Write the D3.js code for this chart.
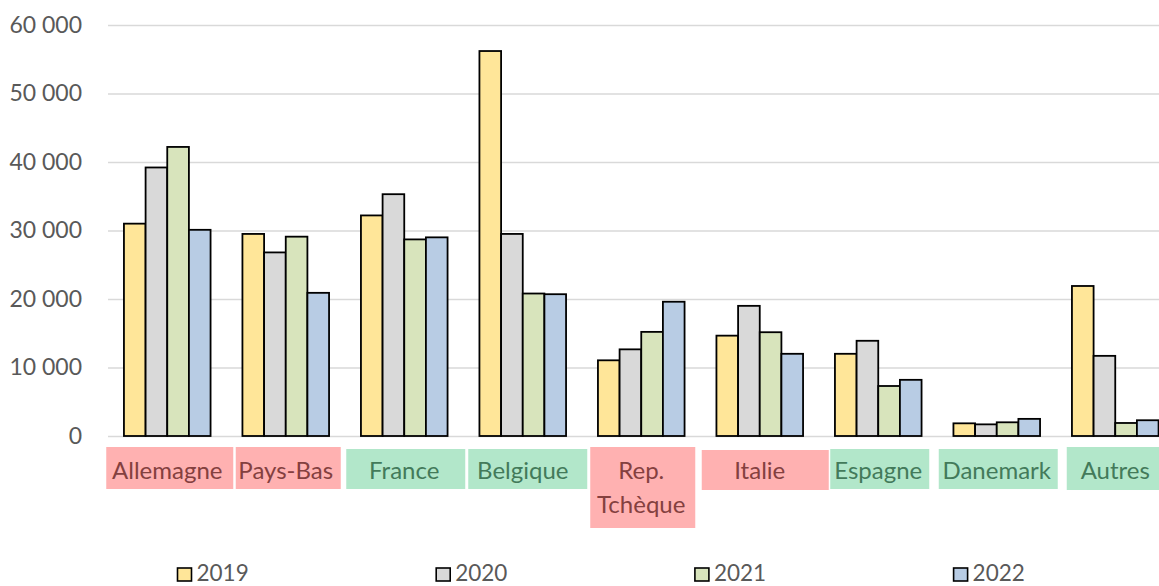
<!DOCTYPE html>
<html>
<head>
<meta charset="utf-8">
<script src="https://cdn.jsdelivr.net/npm/d3@7"></script>
<style>
  html, body { margin: 0; padding: 0; background: #fff; }
  svg { display: block; font-family: Lato, "Open Sans", sans-serif; }
</style>
</head>
<body>
<svg id="chart" width="1159" height="586"></svg>
<script>
// ---- data ----
const categories = ["Allemagne", "Pays-Bas", "France", "Belgique", "Rep. Tchèque", "Italie", "Espagne", "Danemark", "Autres"];
const categoryLines = [["Allemagne"], ["Pays-Bas"], ["France"], ["Belgique"], ["Rep.", "Tchèque"], ["Italie"], ["Espagne"], ["Danemark"], ["Autres"]];
const categoryGroup = ["red", "red", "green", "green", "red", "red", "green", "green", "green"];
const seriesNames = ["2019", "2020", "2021", "2022"];
const values2019 = [31000, 29500, 32200, 56200, 11050, 14650, 12000, 1850, 21900];
const values2020 = [39200, 26800, 35300, 29500, 12650, 19000, 13900, 1700, 11700];
const values2021 = [42200, 29100, 28700, 20800, 15200, 15150, 7300, 2000, 1900];
const values2022 = [30100, 20900, 29000, 20700, 19600, 12000, 8200, 2500, 2300];
const yTicks = [0, 10000, 20000, 30000, 40000, 50000, 60000];

// ---- styles / layout ----
const seriesColors = ["#FFE699", "#D9D9D9", "#D8E4BC", "#B8CCE4"];
const groupStyle = {
  red:   { fill: "#FFB1B1", text: "#84403F" },
  green: { fill: "#B2E7CA", text: "#437A5A" }
};
// label box extents relative to the category centre: [left, right, top, bottom]
const labelBoxPad = [
  [-61, 66, 447, 489], [-50, 55, 447, 489], [-58, 61, 449, 489], [-54.5, 64.5, 449, 489],
  [-51, 54, 447, 528], [-58, 69, 450, 490], [-48, 51, 449, 489], [-58, 61, 449, 489],
  [-48.5, 52, 447, 490]
];

const svg = d3.select("#chart");
const plotLeft = 108, plotRight = 1174.5, plotTop = 25, plotBottom = 436;

const series = seriesNames.map((name, i) => ({
  name, color: seriesColors[i],
  values: [values2019, values2020, values2021, values2022][i]
}));

const x0 = d3.scaleBand().domain(categories).range([plotLeft, plotRight])
  .paddingInner(0.269).paddingOuter(0.1345);
const x1 = d3.scaleBand().domain(seriesNames).range([0, x0.bandwidth()]);
const y = d3.scaleLinear().domain([0, 60000]).range([plotBottom, plotTop]);

const fmt = d3.formatLocale({ decimal: ",", thousands: "\u00a0", grouping: [3], currency: ["", ""] }).format(",d");

// y axis with gridlines
const yAxis = svg.append("g")
  .attr("transform", `translate(${plotLeft},0)`)
  .call(d3.axisLeft(y).tickValues(yTicks).tickFormat(fmt)
    .tickSizeInner(-(plotRight - plotLeft)).tickSizeOuter(0).tickPadding(26));
yAxis.select(".domain").remove();
yAxis.selectAll(".tick line").attr("stroke", "#D9D9D9").attr("stroke-width", 1.6);
yAxis.selectAll(".tick text").attr("fill", "#595959").attr("font-size", 23)
  .attr("font-family", "Lato, sans-serif");

// bars
const groups = svg.append("g").selectAll("g")
  .data(categories).join("g")
  .attr("transform", d => `translate(${x0(d)},0)`);

groups.selectAll("rect")
  .data((c, ci) => series.map(s => ({ key: s.name, color: s.color, value: s.values[ci] })))
  .join("rect")
  .attr("x", d => x1(d.key))
  .attr("width", x1.bandwidth())
  .attr("y", d => y(d.value))
  .attr("height", d => y(0) - y(d.value))
  .attr("fill", d => d.color)
  .attr("stroke", "#000")
  .attr("stroke-width", 1.8);

// category labels with coloured boxes
const labels = svg.append("g").selectAll("g")
  .data(categories).join("g");
labels.append("rect")
  .attr("x", (d, i) => x0(d) + x0.bandwidth() / 2 + labelBoxPad[i][0])
  .attr("width", (d, i) => labelBoxPad[i][1] - labelBoxPad[i][0])
  .attr("y", (d, i) => labelBoxPad[i][2])
  .attr("height", (d, i) => labelBoxPad[i][3] - labelBoxPad[i][2])
  .attr("fill", (d, i) => groupStyle[categoryGroup[i]].fill);
labels.each(function (d, i) {
  const g = d3.select(this);
  categoryLines[i].forEach((line, li) => {
    g.append("text")
      .attr("x", x0(d) + x0.bandwidth() / 2)
      .attr("y", 479 + li * 33.5)
      .attr("text-anchor", "middle")
      .attr("font-size", 24)
      .attr("fill", groupStyle[categoryGroup[i]].text)
      .text(line);
  });
});

// legend
const legend = svg.append("g").selectAll("g")
  .data(series).join("g")
  .attr("transform", (d, i) => `translate(${177.5 + i * 258.7},568)`);
legend.append("rect")
  .attr("width", 14).attr("height", 13)
  .attr("fill", d => d.color).attr("stroke", "#000").attr("stroke-width", 1.6);
legend.append("text")
  .attr("x", 19).attr("y", 13)
  .attr("font-size", 22.5).attr("fill", "#595959")
  .text(d => d.name);
</script>
</body>
</html>
